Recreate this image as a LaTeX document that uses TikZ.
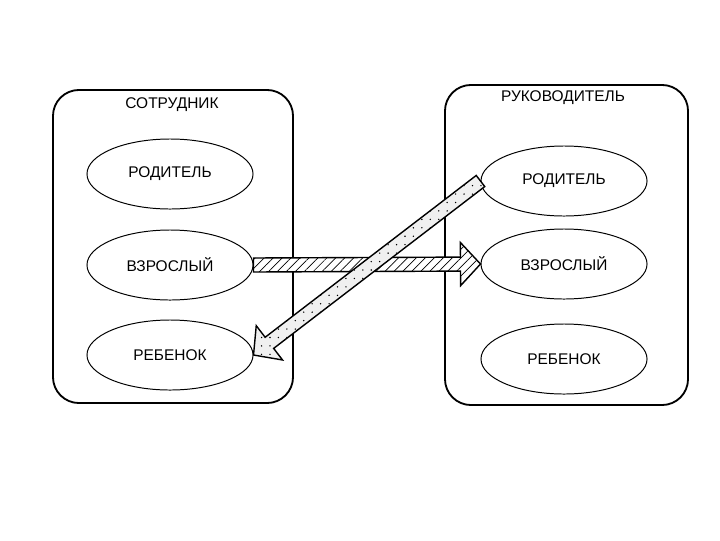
\documentclass[tikz,border=0pt]{standalone}
\usepackage{fontspec}
\setmainfont{Liberation Sans}
\usepackage{tikz}
\usetikzlibrary{
    calc,
    shapes.geometric,
    patterns.meta
}
%
\tikzset{
    panelBox/.style={
        draw,
        line width=1.3pt,
        rounded corners=0.65cm,
        minimum width=6cm
    },
    stateOval/.style={
        draw,
        ellipse,
        line width=0.7pt,
        minimum width=4.15cm,
        minimum height=1.75cm,
        font=\fontsize{11}{13}\selectfont
    },
    panelTitle/.style={
        font=\fontsize{11}{13}\selectfont
    },
    hatchArrow/.style={
        draw,
        line width=1pt,
        preaction={fill=white},
        pattern={Lines[angle=45,distance=4.5pt,line width=0.5pt]}
    },
    dotArrow/.style={
        draw,
        line width=1pt,
        preaction={fill=gray!12},
        pattern={Dots[distance=6pt,radius=0.55pt]}
    }
}
%
% broad arrow from #2 to #3
\newcommand{\fatArrow}[3]{%
    \coordinate (headBase) at ($(#3)!0.5cm!(#2)$);
    \draw[#1]
    ($(#2)!0.175cm!90:(#3)$)
    --
    ($(headBase)!0.175cm!90:(#3)$)
    --
    ($(headBase)!0.54cm!90:(#3)$)
    --
    (#3)
    --
    ($(headBase)!0.54cm!-90:(#3)$)
    --
    ($(headBase)!0.175cm!-90:(#3)$)
    --
    ($(#2)!0.175cm!-90:(#3)$)
    --
    cycle;
}

\begin{document}
\begin{tikzpicture}[x=0.025cm,y=-0.025cm]
%
    \useasboundingbox
    (0,0)
    rectangle
    (720,540);
%
    % employee
    \node[
        panelBox,
        minimum height=7.825cm
    ]
    (staffBox) at (173,246.5) {};
%
    \node[
        panelTitle
    ]
    (staffTitle) at (172,105) {
        СОТРУДНИК
    };
%
    \node[stateOval] (lParent) at (170,174) {РОДИТЕЛЬ};
    \node[stateOval] (lAdult) at (170,265) {ВЗРОСЛЫЙ};
    \node[stateOval] (lChild) at (170,355) {РЕБЕНОК};
%
    % manager
    \node[
        panelBox,
        minimum width=6.075cm,
        minimum height=8cm
    ]
    (bossBox) at (566.5,245) {};
%
    \node[
        panelTitle
    ]
    (bossTitle) at (563,98) {
        РУКОВОДИТЕЛЬ
    };
%
    \node[stateOval] (rParent) at (564,181) {РОДИТЕЛЬ};
    \node[stateOval] (rAdult) at (564,264) {ВЗРОСЛЫЙ};
    \node[stateOval] (rChild) at (564,359) {РЕБЕНОК};
%
    % transactions
    \fatArrow{hatchArrow}{lAdult.east}{rAdult.west}
    \fatArrow{dotArrow}{rParent.west}{lChild.east}
%
\end{tikzpicture}
\end{document}
